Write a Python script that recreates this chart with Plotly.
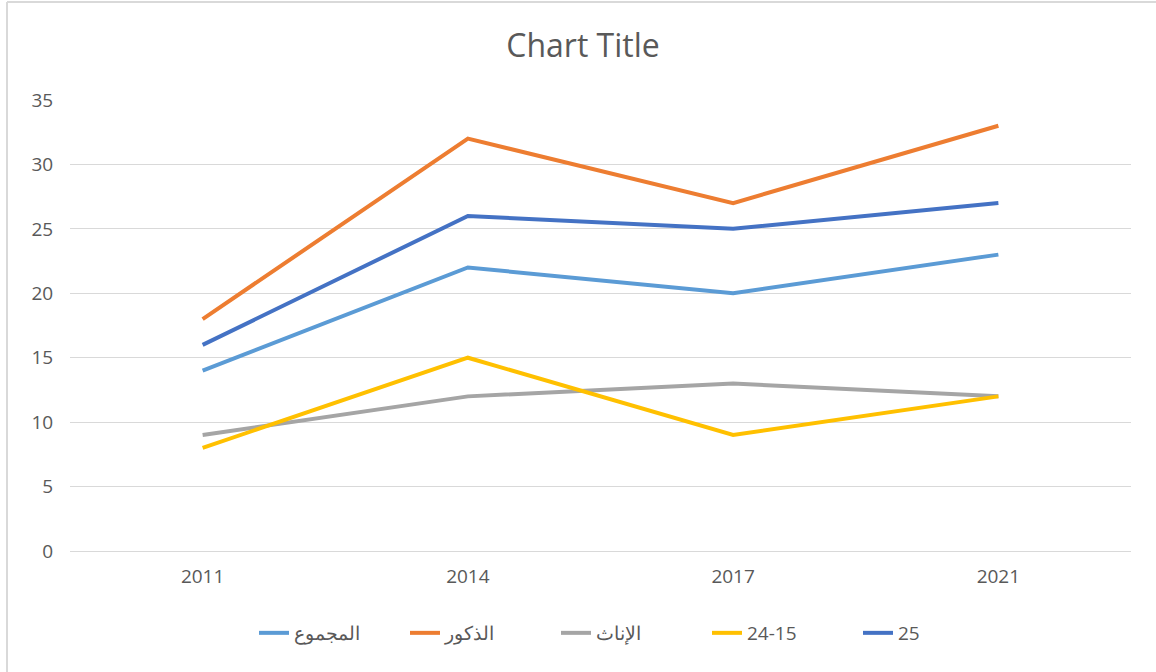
import plotly.graph_objects as go

years = ["2011", "2014", "2017", "2021"]
total = [14, 22, 20, 23]
males = [18, 32, 27, 33]
females = [9, 12, 13, 12]
age_15_24 = [8, 15, 9, 12]
age_25 = [16, 26, 25, 27]

series = [
    ("المجموع", total, "#5B9BD5"),
    ("الذكور", males, "#ED7D31"),
    ("الإناث", females, "#A5A5A5"),
    ("24-15", age_15_24, "#FFC000"),
    ("25", age_25, "#4472C4"),
]

W, H = 1156, 672
L, R, T, B = 70, 25, 100, 121

fig = go.Figure()
for name, vals, color in series:
    fig.add_trace(go.Scatter(x=years, y=vals, name=name, mode="lines",
                             line=dict(color=color, width=4)))

pw = W - L - R
ph = H - T - B
def px_x(p):
    return (p - L) / pw
def px_y(p):
    return 1 - (p - T) / ph

fig.update_layout(
    width=W, height=H,
    margin=dict(l=L, r=R, t=T, b=B),
    paper_bgcolor="white", plot_bgcolor="white",
    font=dict(family="Open Sans, Noto Sans, sans-serif", color="#595959", size=19),
    title=dict(text="Chart Title", x=583 / W, xanchor="center", y=1 - 46 / H, yanchor="middle",
               xref="container", yref="container",
               font=dict(size=32, color="#595959")),
    xaxis=dict(type="category", range=[-0.5, 3.5], showgrid=False,
               showline=True, linecolor="#D9D9D9", linewidth=1,
               ticks="outside", ticklen=8, tickcolor="rgba(0,0,0,0)",
               tickfont=dict(size=19, color="#595959")),
    yaxis=dict(range=[0, 35], dtick=5, showgrid=True, gridcolor="#D9D9D9", gridwidth=1,
               zeroline=False, showline=False, ticks="outside", ticklen=12,
               tickcolor="rgba(0,0,0,0)",
               tickfont=dict(size=19, color="#595959")),
    legend=dict(orientation="h", xref="container", yref="container",
                x=254 / W, xanchor="left", y=1 - 633 / H, yanchor="middle",
                font=dict(size=19, color="#595959"),
                entrywidth=106, entrywidthmode="pixels"),
    showlegend=True,
    shapes=[
        dict(type="line", xref="paper", yref="paper",
             x0=px_x(7), x1=px_x(7), y0=px_y(2), y1=px_y(H + 5),
             line=dict(color="#D9D9D9", width=2)),
        dict(type="line", xref="paper", yref="paper",
             x0=px_x(7), x1=px_x(W + 5), y0=px_y(2), y1=px_y(2),
             line=dict(color="#D9D9D9", width=2)),
    ],
)

fig.write_html("out.html", config={"displayModeBar": False},
               post_script="document.body.style.margin='0';document.body.style.overflow='hidden';")
